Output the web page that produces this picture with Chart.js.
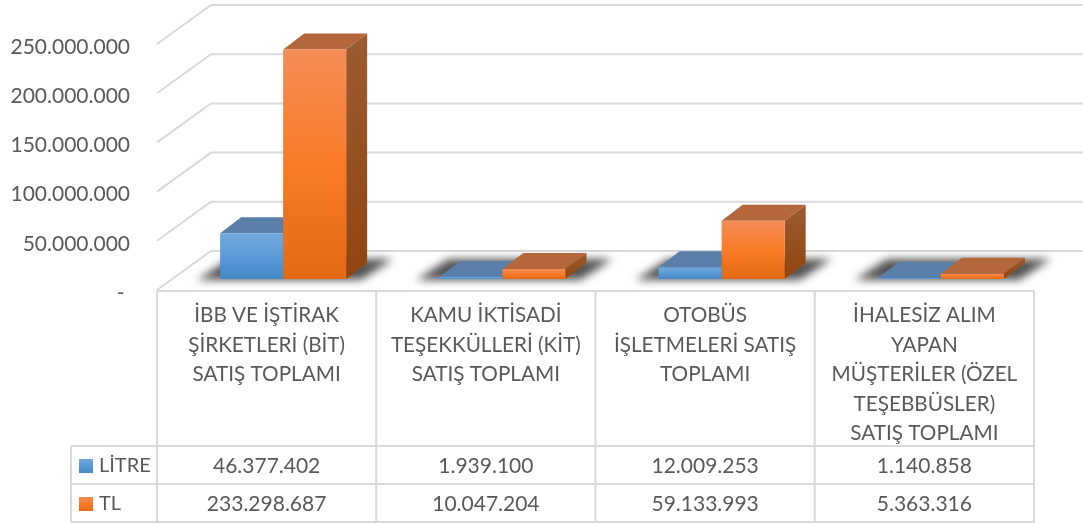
<!DOCTYPE html>
<html lang="tr">
<head>
<meta charset="utf-8">
<title>Satış Toplamları</title>
<script src="https://cdn.jsdelivr.net/npm/chart.js@4/dist/chart.umd.min.js"></script>
<style>
  html, body { margin: 0; padding: 0; background: #fff; }
  canvas { display: block; }
</style>
</head>
<body>
<canvas id="salesChart" width="1083" height="524"></canvas>
<script>
const categories = [
  ['İBB VE İŞTİRAK', 'ŞİRKETLERİ (BİT)', 'SATIŞ TOPLAMI'],
  ['KAMU İKTİSADİ', 'TEŞEKKÜLLERİ (KİT)', 'SATIŞ TOPLAMI'],
  ['OTOBÜS', 'İŞLETMELERİ SATIŞ', 'TOPLAMI'],
  ['İHALESİZ ALIM', 'YAPAN', 'MÜŞTERİLER (ÖZEL', 'TEŞEBBÜSLER)', 'SATIŞ TOPLAMI']
];
const litre = [46377402, 1939100, 12009253, 1140858];
const tl = [233298687, 10047204, 59133993, 5363316];
const seriesNames = ['LİTRE', 'TL'];
const tickValues = [0, 50000000, 100000000, 150000000, 200000000, 250000000];

const FONT = 'Lato';
const TEXT = '#595959';
const LINE = '#d9d9d9';

// how far the back wall and the bars sit behind the front of the floor
const WALL = { x: 54, y: -39 };
const BAR_SHIFT = { x: 16.5, y: -11 };
const BAR_DEPTH = { x: 21, y: -16 };

const faces = [
  { front: ['#72a9de', '#5a9ad8', '#4688c6'], top: '#5a7fa9', side: ['#4f7aa6', '#3f6c99'] },
  { front: ['#f58d58', '#f97b28', '#e36a15'], top: '#b5673c', side: ['#9c5b31', '#91450f'] }
];

function formatNumber(value) {
  return String(value).replace(/\B(?=(\d{3})+(?!\d))/g, '.');
}

function frontGradient(ctx, top, bottom, stops) {
  const g = ctx.createLinearGradient(0, top, 0, bottom);
  g.addColorStop(0, stops[0]);
  g.addColorStop(0.5, stops[1]);
  g.addColorStop(1, stops[2]);
  return g;
}

function polygon(ctx, points) {
  ctx.beginPath();
  points.forEach((p, i) => (i ? ctx.lineTo(p[0], p[1]) : ctx.moveTo(p[0], p[1])));
  ctx.closePath();
  ctx.fill();
}

function barFill(series) {
  return function (context) {
    const chart = context.chart;
    if (!chart.scales.y || context.raw === undefined) return faces[series].front[1];
    const top = chart.scales.y.getPixelForValue(context.raw);
    const bottom = chart.scales.y.getPixelForValue(0);
    if (!Number.isFinite(top) || !Number.isFinite(bottom)) return faces[series].front[1];
    return frontGradient(chart.ctx, top, bottom, faces[series].front);
  };
}

// back wall, left wall, floor shadows and the top and side of every bar
const wallPlugin = {
  id: 'wall',
  beforeDatasetsDraw(chart) {
    const { ctx, scales } = chart;
    ctx.save();
    ctx.strokeStyle = LINE;
    ctx.lineWidth = 2;
    scales.y.ticks.forEach(tick => {
      const y = scales.y.getPixelForValue(tick.value);
      ctx.beginPath();
      ctx.moveTo(scales.x.left, y);
      ctx.lineTo(scales.x.left + WALL.x, y + WALL.y);
      ctx.lineTo(chart.width, y + WALL.y);
      ctx.stroke();
    });
    ctx.restore();

    const left = chart.getDatasetMeta(0).data;
    const right = chart.getDatasetMeta(1).data;
    ctx.save();
    ctx.filter = 'blur(4px)';
    ctx.fillStyle = 'rgba(40,40,40,0.8)';
    const floor = scales.y.getPixelForValue(0) + BAR_SHIFT.y;
    left.forEach((bar, i) => {
      const x0 = bar.x - bar.width / 2 + BAR_SHIFT.x;
      const x1 = right[i].x + right[i].width / 2 + BAR_SHIFT.x;
      polygon(ctx, [[x0 - 23, floor + 1], [x1 + 15, floor + 1], [x1 + 47, floor - 20], [x0 + 9, floor - 20]]);
    });
    ctx.restore();

    ctx.save();
    ctx.translate(BAR_SHIFT.x, BAR_SHIFT.y);
    [0, 1].forEach(series => {
      chart.getDatasetMeta(series).data.forEach(bar => {
        const l = bar.x - bar.width / 2;
        const r = bar.x + bar.width / 2;
        const top = bar.y;
        const base = bar.base;
        ctx.fillStyle = faces[series].top;
        polygon(ctx, [[l, top], [r, top], [r + BAR_DEPTH.x, top + BAR_DEPTH.y], [l + BAR_DEPTH.x, top + BAR_DEPTH.y]]);
        const g = ctx.createLinearGradient(0, top + BAR_DEPTH.y, 0, base);
        g.addColorStop(0, faces[series].side[0]);
        g.addColorStop(1, faces[series].side[1]);
        ctx.fillStyle = g;
        polygon(ctx, [[r, top], [r + BAR_DEPTH.x, top + BAR_DEPTH.y], [r + BAR_DEPTH.x, base + BAR_DEPTH.y], [r, base]]);
      });
    });
    ctx.restore();
  },
  beforeDatasetDraw(chart) {
    chart.ctx.save();
    chart.ctx.translate(BAR_SHIFT.x, BAR_SHIFT.y);
  },
  afterDatasetDraw(chart) {
    chart.ctx.restore();
  }
};

// the data table under the floor
const tablePlugin = {
  id: 'dataTable',
  afterDraw(chart) {
    const { ctx, scales } = chart;
    const rows = [446, 484, 522];
    const keyLeft = 71;
    const band = (scales.x.right - scales.x.left) / categories.length;
    const top = scales.y.getPixelForValue(0) + 1;

    ctx.save();
    ctx.strokeStyle = LINE;
    ctx.lineWidth = 2;
    ctx.beginPath();
    ctx.moveTo(scales.x.left, top);
    ctx.lineTo(scales.x.right, top);
    for (let i = 0; i <= categories.length; i++) {
      ctx.moveTo(scales.x.left + band * i, top);
      ctx.lineTo(scales.x.left + band * i, rows[2]);
    }
    rows.forEach(y => {
      ctx.moveTo(keyLeft, y);
      ctx.lineTo(scales.x.right, y);
    });
    ctx.moveTo(keyLeft, rows[0]);
    ctx.lineTo(keyLeft, rows[2]);
    ctx.stroke();

    ctx.textBaseline = 'middle';
    [litre, tl].forEach((values, r) => {
      const mid = (rows[r] + rows[r + 1]) / 2 + 1;
      ctx.font = '21px ' + FONT;
      ctx.textAlign = 'center';
      ctx.fillStyle = TEXT;
      values.forEach((v, i) => {
        ctx.fillText(formatNumber(v), scales.x.getPixelForTick(i), mid);
      });
      ctx.fillStyle = frontGradient(ctx, mid - 7, mid + 7, faces[r].front);
      ctx.fillRect(79, mid - 7, 14, 14);
      ctx.font = '20px ' + FONT;
      ctx.textAlign = 'left';
      ctx.fillStyle = TEXT;
      ctx.fillText(seriesNames[r], 99, mid);
    });
    ctx.restore();
  }
};

new Chart(document.getElementById('salesChart').getContext('2d'), {
  type: 'bar',
  data: {
    labels: categories,
    datasets: [
      { label: seriesNames[0], data: litre, backgroundColor: barFill(0) },
      { label: seriesNames[1], data: tl, backgroundColor: barFill(1) }
    ]
  },
  options: {
    responsive: false,
    animation: false,
    layout: { padding: { top: 44, right: 49, left: 0, bottom: 0 } },
    datasets: { bar: { barPercentage: 1, categoryPercentage: 0.575, clip: false } },
    plugins: { legend: { display: false }, tooltip: { enabled: false } },
    scales: {
      x: {
        grid: { display: false },
        border: { display: false },
        afterFit(scale) { scale.height = 234; },
        ticks: {
          color: TEXT,
          padding: 3,
          maxRotation: 0,
          autoSkip: false,
          font: { family: FONT, size: 20.7, lineHeight: 1.425 }
        }
      },
      y: {
        min: 0,
        max: 250000000,
        grid: { display: false },
        border: { display: false },
        afterFit(scale) { scale.width = 157; },
        afterBuildTicks(scale) { scale.ticks = tickValues.map(value => ({ value })); },
        ticks: {
          color: TEXT,
          padding: 19,
          labelOffset: 3,
          font: { family: FONT, size: 21 },
          callback: value => (value === 0 ? '- ' : formatNumber(value))
        }
      }
    }
  },
  plugins: [wallPlugin, tablePlugin]
});
</script>
</body>
</html>
